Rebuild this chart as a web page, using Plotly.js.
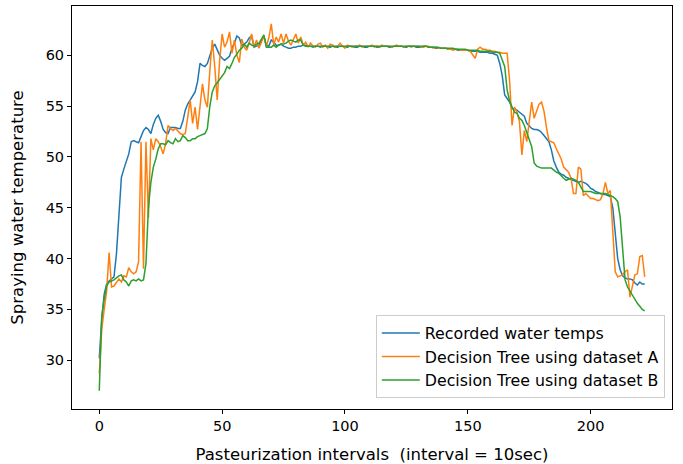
<!DOCTYPE html>
<html>
<head>
<meta charset="utf-8">
<script src="https://cdn.plot.ly/plotly-3.0.1.min.js"></script>
<style>html,body{margin:0;padding:0;background:#fff;}#chart{width:683px;height:464px;}</style>
</head>
<body>
<div id="chart"></div>
<script>
const seriesNames = ["Recorded water temps", "Decision Tree using dataset A", "Decision Tree using dataset B"];
const seriesColors = ["#1f77b4", "#ff7f0e", "#2ca02c"];

const recorded = [
30.2, 34.0, 36.5, 37.5, 37.8, 38.0, 38.2, 40.5, 44.5, 48.0,
48.8, 49.5, 50.3, 51.5, 51.6, 51.5, 51.4, 52.0, 52.6, 52.9,
52.7, 52.3, 53.2, 53.8, 54.1, 53.5, 52.7, 52.4, 52.3, 52.9,
52.9, 52.9, 52.8, 52.8, 53.5, 54.6, 55.2, 55.6, 56.0, 56.4,
57.4, 59.2, 59.0, 58.9, 59.2, 59.9, 60.7, 61.1, 60.5, 60.0,
59.7, 59.5, 59.7, 59.9, 60.7, 61.2, 61.9, 61.7, 61.0, 61.1,
61.3, 61.7, 61.9, 60.8, 60.9, 61.0, 61.5, 61.8, 61.0, 60.9,
61.5, 61.3, 61.0, 61.0, 61.1, 60.9, 60.8, 60.7, 60.7, 60.8,
60.8, 60.9, 60.9, 61.0, 61.0, 60.9, 60.9, 60.8, 60.9, 60.9,
60.8, 60.9, 60.9, 60.8, 60.8, 60.9, 60.8, 60.8, 60.9, 60.9,
60.8, 60.8, 60.9, 60.9, 60.8, 60.8, 60.9, 60.9, 60.8, 60.8,
60.9, 60.9, 60.9, 60.8, 60.8, 60.9, 60.9, 60.9, 60.8, 60.8,
60.9, 60.9, 60.9, 60.9, 60.8, 60.8, 60.9, 60.9, 60.9, 60.8,
60.8, 60.8, 60.9, 60.9, 60.8, 60.8, 60.8, 60.7, 60.7, 60.7,
60.7, 60.7, 60.6, 60.6, 60.6, 60.6, 60.5, 60.5, 60.5, 60.5,
60.5, 60.4, 60.4, 60.4, 60.4, 60.3, 60.3, 60.3, 60.3, 60.2,
60.2, 60.1, 60.0, 59.2, 58.0, 56.1, 55.7, 55.4, 54.8, 54.7,
54.6, 54.4, 54.2, 54.0, 53.3, 53.0, 52.8, 52.7, 52.7, 52.6,
52.4, 52.1, 51.8, 51.5, 50.7, 49.6, 49.0, 48.5, 48.3, 48.2,
48.0, 47.9, 47.8, 47.7, 47.6, 47.5, 47.6, 47.5, 47.4, 47.2,
46.9, 46.8, 46.6, 46.5, 46.4, 46.3, 46.3, 46.2, 46.1, 45.0,
42.5, 40.0, 38.9, 38.3, 38.1, 38.0, 38.0, 37.9, 37.6, 37.4,
37.7, 37.5, 37.5
];

const treeA = [
28.7, 33.0, 35.0, 36.8, 40.6, 37.2, 37.3, 37.6, 38.0, 37.7,
38.3, 38.2, 39.1, 38.7, 38.5, 38.7, 39.7, 51.5, 39.0, 51.5,
44.0, 51.8, 50.7, 51.8, 51.5, 51.0, 50.3, 51.3, 53.1, 52.8,
52.6, 52.8, 52.5, 52.3, 52.2, 52.3, 53.9, 55.6, 53.3, 54.9,
52.7, 55.2, 57.2, 55.6, 54.9, 58.5, 61.5, 58.9, 55.6, 59.5,
62.1, 60.8, 61.3, 62.3, 60.2, 61.5, 60.0, 59.3, 61.6, 60.8,
60.5, 61.2, 62.1, 60.8, 61.5, 60.7, 61.3, 61.9, 60.9, 61.7,
63.1, 61.0, 61.8, 61.3, 62.1, 61.2, 62.1, 61.4, 61.0, 61.6,
62.1, 61.2, 61.8, 61.0, 61.3, 60.8, 61.2, 60.9, 60.8, 61.1,
61.2, 60.8, 61.0, 60.7, 61.1, 61.0, 60.8, 60.9, 61.2, 60.9,
60.7, 61.0, 60.9, 60.8, 60.9, 60.9, 61.0, 60.8, 60.9, 60.9,
60.9, 61.0, 60.8, 60.9, 60.8, 61.0, 60.9, 60.9, 60.9, 60.8,
60.9, 61.0, 60.9, 60.9, 60.8, 60.9, 60.9, 60.8, 60.9, 60.9,
60.9, 60.8, 60.8, 60.9, 60.9, 60.8, 60.7, 60.8, 60.7, 60.7,
60.7, 60.7, 60.6, 60.6, 60.5, 60.6, 60.6, 60.5, 60.5, 60.5,
60.5, 60.4, 60.1, 59.7, 60.6, 60.8, 60.6, 60.6, 60.5, 60.5,
60.4, 60.4, 60.3, 60.3, 60.2, 60.2, 60.2, 57.5, 53.1, 54.9,
54.4, 53.5, 50.2, 52.6, 51.5, 53.5, 55.4, 53.8, 54.5, 55.2,
55.4, 54.5, 52.9, 51.6, 51.5, 51.4, 50.8, 50.3, 49.8, 49.0,
48.7, 48.5, 47.9, 46.4, 46.4, 49.0, 48.8, 46.2, 46.4, 46.1,
45.9, 45.9, 45.8, 45.7, 45.8, 46.4, 47.5, 46.4, 46.7, 43.0,
38.7, 38.2, 38.3, 38.4, 38.7, 38.9, 36.2, 37.4, 38.4, 38.5,
40.2, 40.3, 38.2
];

const treeB = [
27.0, 34.3, 36.0, 37.3, 37.7, 37.8, 37.9, 38.1, 38.3, 38.4,
37.9, 37.7, 37.3, 37.8, 37.9, 37.8, 38.0, 37.8, 37.9, 39.5,
45.0, 47.5, 49.0, 49.8, 50.8, 51.3, 51.3, 51.2, 51.6, 51.4,
51.3, 51.8, 51.5, 51.6, 52.1, 51.9, 51.6, 51.6, 51.8, 51.8,
52.0, 52.1, 52.2, 52.3, 52.8, 55.0, 56.4, 57.0, 57.3, 57.6,
58.0, 58.3, 58.9, 58.7, 59.2, 59.8, 60.1, 60.5, 60.7, 61.1,
60.8, 61.2, 61.0, 60.9, 61.1, 61.2, 61.6, 62.0, 60.8, 60.8,
60.8, 61.0, 60.8, 61.0, 61.1, 61.1, 61.2, 61.4, 61.5, 61.4,
61.3, 61.5, 61.5, 61.0, 60.9, 60.9, 60.9, 60.9, 60.9, 60.9,
60.9, 60.9, 60.9, 60.9, 60.9, 60.9, 60.9, 60.9, 60.9, 60.9,
60.9, 60.9, 60.9, 60.9, 60.9, 60.9, 60.9, 60.9, 60.9, 60.9,
60.9, 60.9, 60.9, 60.9, 60.9, 60.9, 60.9, 60.9, 60.9, 60.9,
60.9, 60.9, 60.9, 60.9, 60.9, 60.9, 60.9, 60.9, 60.9, 60.9,
60.9, 60.9, 60.9, 60.9, 60.8, 60.8, 60.8, 60.8, 60.8, 60.7,
60.7, 60.7, 60.7, 60.7, 60.7, 60.6, 60.6, 60.6, 60.6, 60.6,
60.5, 60.5, 60.5, 60.5, 60.5, 60.4, 60.4, 60.4, 60.4, 60.4,
60.3, 60.3, 60.3, 60.2, 59.5, 58.9, 56.6, 55.5, 54.9, 54.4,
54.3, 53.8, 53.6, 53.1, 52.4, 51.6, 51.0, 49.4, 49.1, 49.0,
48.9, 48.9, 48.9, 48.9, 48.9, 48.7, 48.5, 48.4, 48.1, 47.9,
47.7, 47.8, 47.9, 47.8, 47.7, 47.5, 47.1, 46.6, 46.6, 46.6,
46.6, 46.5, 46.4, 46.4, 46.4, 46.4, 46.4, 46.3, 46.2, 46.1,
45.9, 45.6, 44.1, 40.8, 37.9, 37.2, 36.8, 36.4, 35.9, 35.6,
35.3, 35.0, 34.85
];

const xTicks = [0, 50, 100, 150, 200];
const yTicks = [30, 35, 40, 45, 50, 55, 60];
const xTitle = "Pasteurization intervals&nbsp; (interval = 10sec)";
const yTitle = "Spraying water temperature";

const allSeries = [recorded, treeA, treeB];
const traces = allSeries.map((ys, k) => ({
  x: ys.map((_, i) => i),
  y: ys,
  type: "scatter",
  mode: "lines",
  name: seriesNames[k],
  line: {color: seriesColors[k], width: 1.5}
}));

const tickFont = {family: "DejaVu Sans, sans-serif", size: 14.5, color: "#000"};
const bigFont = {family: "DejaVu Sans, sans-serif", size: 16.5, color: "#000"};
const legendFont = {family: "DejaVu Sans, sans-serif", size: 15.8, color: "#000"};
const layout = {
  width: 683, height: 464,
  margin: {l: 72, r: 11, t: 6, b: 55},
  paper_bgcolor: "#fff", plot_bgcolor: "#fff",
  font: tickFont,
  showlegend: true,
  legend: {
    x: 0.988, y: 0.027, xanchor: "right", yanchor: "bottom",
    bgcolor: "rgba(255,255,255,0.8)", bordercolor: "#cccccc", borderwidth: 1,
    font: legendFont, itemwidth: 38,
    tracegroupgap: 0
  },
  xaxis: {
    range: [-11.1, 233.1], tickvals: xTicks, ticktext: xTicks.map(String),
    ticks: "outside", ticklen: 4, tickwidth: 1, tickcolor: "#000", tickfont: tickFont,
    showgrid: false, zeroline: false, showline: true, linecolor: "#000", linewidth: 1, mirror: true,
    title: {text: xTitle, standoff: 15, font: bigFont}, automargin: false
  },
  yaxis: {
    range: [25.2, 64.85], tickvals: yTicks, ticktext: yTicks.map(String),
    ticks: "outside", ticklen: 4, tickwidth: 1, tickcolor: "#000", tickfont: tickFont,
    showgrid: false, zeroline: false, showline: true, linecolor: "#000", linewidth: 1, mirror: true,
    title: {text: yTitle, standoff: 17, font: bigFont}, automargin: false
  }
};

Plotly.newPlot("chart", traces, layout, {displayModeBar: false, staticPlot: true});
</script>
</body>
</html>
